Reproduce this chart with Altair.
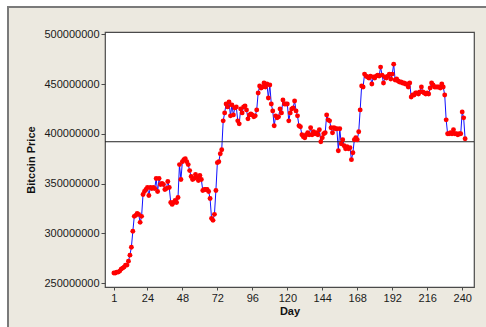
import altair as alt
import pandas as pd

# Daily closing price, days 1..242
prices_m = [
    260, 260, 261, 261, 262, 264, 265, 266, 268, 268,
    272, 278, 286, 302, 317, 318, 320, 319, 311, 317,
    339, 342, 344, 346, 338, 346, 345, 346, 345, 355,
    342, 355, 349, 350, 349, 344, 345, 352, 346, 331,
    329, 331, 333, 331, 336, 369, 354, 372, 374, 375,
    372, 369, 363, 357, 354, 355, 359, 356, 353, 358,
    354, 343, 344, 344, 344, 342, 335, 315, 313, 319,
    343, 371, 372, 380, 384, 413, 421, 430, 427, 432,
    418, 429, 419, 426, 427, 413, 410, 425, 421, 427,
    428, 424, 415, 419, 420, 419, 417, 418, 424, 441,
    448, 446, 447, 451, 447, 450, 436, 449, 430, 423,
    408, 418, 416, 417, 425, 421, 434, 430, 430, 430,
    413, 421, 425, 426, 433, 423, 418, 408, 407, 399,
    397, 396, 399, 401, 399, 406, 399, 402, 400, 401,
    399, 404, 392, 396, 400, 401, 419, 414, 413, 406,
    401, 406, 405, 405, 383, 405, 390, 394, 388, 385,
    387, 385, 386, 374, 381, 394, 396, 394, 402, 424,
    448, 447, 460, 458, 457, 456, 458, 450, 457, 456,
    458, 459, 458, 467, 459, 451, 457, 456, 458, 460,
    455, 460, 470, 454, 455, 453, 452, 452, 451, 451,
    450, 450, 447, 451, 437, 439, 439, 441, 441, 440,
    442, 447, 442, 441, 440, 441, 440, 446, 451, 449,
    447, 447, 447, 447, 446, 450, 447, 439, 414, 400,
    400, 401, 400, 404, 400, 400, 399, 400, 400, 422,
    416, 395,
]
days = list(range(1, len(prices_m) + 1))
x_ticks = [1, 24, 48, 72, 96, 120, 144, 168, 192, 216, 240]
y_ticks = [250000000, 300000000, 350000000, 400000000, 450000000, 500000000]
ref_level = [392000000]

df = pd.DataFrame({"Day": days, "Price": [p * 1_000_000 for p in prices_m]})
ref_df = pd.DataFrame({"ref": ref_level})
one = pd.DataFrame({"k": [0]})

W, H = 369, 255
PANEL = "#ECE9E0"

x_enc = alt.X(
    "Day:Q",
    title="Day",
    scale=alt.Scale(domain=[-5.1, 248.1], nice=False, zero=False),
    axis=alt.Axis(values=x_ticks, tickCount=len(x_ticks), tickSize=3, labelPadding=2,
                  titlePadding=2, labelOverlap=False, labelFlush=False),
)
y_enc = alt.Y(
    "Price:Q",
    title="Bitcoin Price",
    scale=alt.Scale(domain=[246000000, 502300000], nice=False, zero=False),
    axis=alt.Axis(values=y_ticks, tickCount=len(y_ticks), format="d", tickSize=4,
                  labelPadding=2, titlePadding=7, labelOverlap=False, labelFlush=False),
)

# White margin strips outside the beige panel (top and left)
top_strip = alt.Chart(one).mark_rect(fill="white", clip=False).encode(
    x=alt.value(-110), x2=alt.value(420), y=alt.value(-40), y2=alt.value(-25)
)
left_strip = alt.Chart(one).mark_rect(fill="white", clip=False).encode(
    x=alt.value(-110), x2=alt.value(-97), y=alt.value(-40), y2=alt.value(330)
)
# Grey frame around the panel
frame = alt.Chart(one).mark_rect(
    fillOpacity=0, stroke="#7A7A7A", strokeWidth=2, clip=False
).encode(
    x=alt.value(-97), x2=alt.value(420), y=alt.value(-25), y2=alt.value(330)
)

base = alt.Chart(df)
line = base.mark_line(color="#1010FF", strokeWidth=1).encode(x=x_enc, y=y_enc)
ref = alt.Chart(ref_df).mark_rule(color="#222222", strokeWidth=1).encode(y="ref:Q")
dots = base.mark_circle(color="#FF0000", size=24, opacity=1).encode(x="Day:Q", y="Price:Q")

chart = alt.layer(top_strip, left_strip, frame, line, ref, dots).properties(
    width=W,
    height=H,
    autosize=alt.AutoSizeParams(type="none"),
    padding={"left": 105, "top": 32, "right": 12, "bottom": 40},
    background=PANEL,
).configure_view(
    fill="white",
    stroke="#4A4A4A",
    strokeWidth=1.2,
).configure_axis(
    domain=False,
    grid=False,
    tickColor="#4A4A4A",
    labelFont="Liberation Sans",
    labelFontSize=11,
    labelColor="#1A1A1A",
    titleFont="Liberation Sans",
    titleFontSize=11,
    titleFontWeight="bold",
    titleColor="#111111",
)

chart.save("out.html", embed_options={"renderer": "svg", "actions": False})
